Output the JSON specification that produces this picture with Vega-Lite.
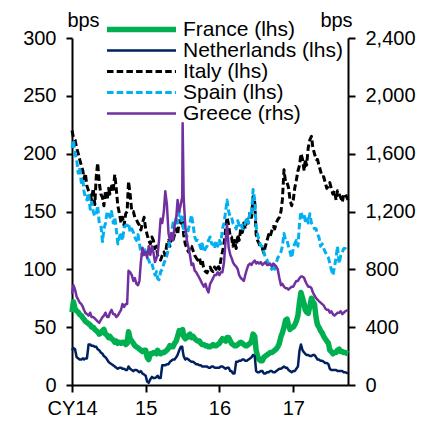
{
  "$schema": "https://vega.github.io/schema/vega-lite/v6.json",
  "width": 276,
  "height": 347,
  "autosize": {"type": "none"},
  "padding": {"left": 72, "top": 38, "right": 80, "bottom": 36},
  "background": "white",
  "config": {
    "view": {"stroke": null},
    "font": "Liberation Sans",
    "axis": {
      "labelFont": "Liberation Sans", "labelFontSize": 20, "labelColor": "black",
      "domainColor": "black", "domainWidth": 2, "tickColor": "black", "tickWidth": 2, "tickSize": 6,
      "grid": false, "titleFont": "Liberation Sans", "titleFontSize": 20, "titleFontWeight": "normal", "titleColor": "black"
    },
    "legend": {
      "orient": "none", "legendX": 32, "legendY": -19, "symbolType": "stroke", "symbolSize": 4761,
      "clipHeight": 21, "labelFontSize": 21, "labelFont": "Liberation Sans", "labelColor": "black",
      "padding": 0, "rowPadding": -1.4, "labelOffset": 4, "title": null
    }
  },
  "data": {"values": [
    {"d": "2014-01-01", "France": 63, "Netherlands": 30, "Italy": 220, "Spain": 205, "Greece": 630},
    {"d": "2014-01-08", "France": 72, "Netherlands": 32, "Italy": 214, "Spain": 212, "Greece": 690},
    {"d": "2014-01-16", "France": 66, "Netherlands": 31, "Italy": 212, "Spain": 200, "Greece": 660},
    {"d": "2014-01-24", "France": 64, "Netherlands": 24, "Italy": 205, "Spain": 195, "Greece": 610},
    {"d": "2014-02-01", "France": 63, "Netherlands": 23, "Italy": 200, "Spain": 183, "Greece": 590},
    {"d": "2014-02-08", "France": 61, "Netherlands": 22, "Italy": 195, "Spain": 188, "Greece": 570},
    {"d": "2014-02-16", "France": 60, "Netherlands": 22, "Italy": 190, "Spain": 175, "Greece": 560},
    {"d": "2014-02-24", "France": 58, "Netherlands": 23, "Italy": 185, "Spain": 178, "Greece": 540},
    {"d": "2014-03-01", "France": 57, "Netherlands": 22, "Italy": 178, "Spain": 168, "Greece": 520},
    {"d": "2014-03-08", "France": 55, "Netherlands": 23, "Italy": 183, "Spain": 162, "Greece": 500},
    {"d": "2014-03-16", "France": 54, "Netherlands": 23, "Italy": 172, "Spain": 160, "Greece": 490},
    {"d": "2014-03-24", "France": 53, "Netherlands": 35, "Italy": 168, "Spain": 166, "Greece": 480},
    {"d": "2014-04-01", "France": 52, "Netherlands": 35, "Italy": 165, "Spain": 152, "Greece": 500},
    {"d": "2014-04-08", "France": 50, "Netherlands": 34, "Italy": 160, "Spain": 158, "Greece": 470},
    {"d": "2014-04-16", "France": 50, "Netherlands": 34, "Italy": 170, "Spain": 150, "Greece": 470},
    {"d": "2014-04-24", "France": 48, "Netherlands": 33, "Italy": 156, "Spain": 146, "Greece": 460},
    {"d": "2014-05-01", "France": 47, "Netherlands": 33, "Italy": 180, "Spain": 148, "Greece": 450},
    {"d": "2014-05-08", "France": 46, "Netherlands": 31, "Italy": 192, "Spain": 155, "Greece": 440},
    {"d": "2014-05-16", "France": 44, "Netherlands": 30, "Italy": 175, "Spain": 140, "Greece": 430},
    {"d": "2014-05-24", "France": 45, "Netherlands": 28, "Italy": 165, "Spain": 138, "Greece": 450},
    {"d": "2014-06-01", "France": 47, "Netherlands": 27, "Italy": 162, "Spain": 124, "Greece": 470},
    {"d": "2014-06-08", "France": 48, "Netherlands": 25, "Italy": 155, "Spain": 135, "Greece": 480},
    {"d": "2014-06-16", "France": 44, "Netherlands": 24, "Italy": 168, "Spain": 140, "Greece": 500},
    {"d": "2014-06-24", "France": 43, "Netherlands": 22, "Italy": 160, "Spain": 150, "Greece": 470},
    {"d": "2014-07-01", "France": 41, "Netherlands": 20, "Italy": 170, "Spain": 148, "Greece": 470},
    {"d": "2014-07-08", "France": 42, "Netherlands": 19, "Italy": 165, "Spain": 145, "Greece": 500},
    {"d": "2014-07-16", "France": 40, "Netherlands": 18, "Italy": 172, "Spain": 150, "Greece": 520},
    {"d": "2014-07-24", "France": 39, "Netherlands": 17, "Italy": 168, "Spain": 140, "Greece": 490},
    {"d": "2014-08-01", "France": 37, "Netherlands": 16, "Italy": 182, "Spain": 145, "Greece": 490},
    {"d": "2014-08-08", "France": 38, "Netherlands": 15, "Italy": 170, "Spain": 135, "Greece": 470},
    {"d": "2014-08-16", "France": 36, "Netherlands": 14, "Italy": 155, "Spain": 122, "Greece": 480},
    {"d": "2014-08-24", "France": 37, "Netherlands": 15, "Italy": 148, "Spain": 128, "Greece": 500},
    {"d": "2014-09-01", "France": 36, "Netherlands": 15, "Italy": 140, "Spain": 132, "Greece": 520},
    {"d": "2014-09-08", "France": 37, "Netherlands": 14, "Italy": 145, "Spain": 125, "Greece": 560},
    {"d": "2014-09-16", "France": 37, "Netherlands": 14, "Italy": 138, "Spain": 136, "Greece": 540},
    {"d": "2014-09-24", "France": 35, "Netherlands": 13, "Italy": 148, "Spain": 138, "Greece": 560},
    {"d": "2014-10-01", "France": 36, "Netherlands": 13, "Italy": 150, "Spain": 138, "Greece": 560},
    {"d": "2014-10-08", "France": 46, "Netherlands": 16, "Italy": 176, "Spain": 140, "Greece": 790},
    {"d": "2014-10-16", "France": 40, "Netherlands": 14, "Italy": 165, "Spain": 132, "Greece": 780},
    {"d": "2014-10-24", "France": 38, "Netherlands": 13, "Italy": 150, "Spain": 135, "Greece": 760},
    {"d": "2014-11-01", "France": 36, "Netherlands": 12, "Italy": 150, "Spain": 132, "Greece": 720},
    {"d": "2014-11-08", "France": 34, "Netherlands": 13, "Italy": 145, "Spain": 128, "Greece": 740},
    {"d": "2014-11-16", "France": 33, "Netherlands": 13, "Italy": 143, "Spain": 125, "Greece": 700},
    {"d": "2014-11-24", "France": 32, "Netherlands": 12, "Italy": 140, "Spain": 130, "Greece": 690},
    {"d": "2014-12-01", "France": 31, "Netherlands": 11, "Italy": 138, "Spain": 122, "Greece": 720},
    {"d": "2014-12-08", "France": 30, "Netherlands": 12, "Italy": 134, "Spain": 115, "Greece": 850},
    {"d": "2014-12-16", "France": 29, "Netherlands": 10, "Italy": 140, "Spain": 112, "Greece": 950},
    {"d": "2014-12-24", "France": 30, "Netherlands": 9, "Italy": 145, "Spain": 118, "Greece": 900},
    {"d": "2015-01-01", "France": 30, "Netherlands": 8, "Italy": 135, "Spain": 115, "Greece": 920},
    {"d": "2015-01-08", "France": 24, "Netherlands": 3, "Italy": 130, "Spain": 110, "Greece": 880},
    {"d": "2015-01-16", "France": 22, "Netherlands": 2, "Italy": 125, "Spain": 108, "Greece": 960},
    {"d": "2015-01-24", "France": 27, "Netherlands": 5, "Italy": 122, "Spain": 104, "Greece": 900},
    {"d": "2015-02-01", "France": 27, "Netherlands": 7, "Italy": 128, "Spain": 105, "Greece": 960},
    {"d": "2015-02-08", "France": 28, "Netherlands": 6, "Italy": 125, "Spain": 100, "Greece": 920},
    {"d": "2015-02-16", "France": 28, "Netherlands": 6, "Italy": 118, "Spain": 95, "Greece": 850},
    {"d": "2015-02-24", "France": 27, "Netherlands": 7, "Italy": 120, "Spain": 98, "Greece": 880},
    {"d": "2015-03-01", "France": 30, "Netherlands": 8, "Italy": 112, "Spain": 92, "Greece": 900},
    {"d": "2015-03-08", "France": 28, "Netherlands": 6, "Italy": 110, "Spain": 91, "Greece": 1000},
    {"d": "2015-03-16", "France": 27, "Netherlands": 6, "Italy": 108, "Spain": 98, "Greece": 1150},
    {"d": "2015-03-24", "France": 28, "Netherlands": 17, "Italy": 112, "Spain": 100, "Greece": 1120},
    {"d": "2015-04-01", "France": 28, "Netherlands": 17, "Italy": 115, "Spain": 105, "Greece": 1200},
    {"d": "2015-04-08", "France": 29, "Netherlands": 17, "Italy": 112, "Spain": 108, "Greece": 1340},
    {"d": "2015-04-16", "France": 30, "Netherlands": 18, "Italy": 122, "Spain": 112, "Greece": 1250},
    {"d": "2015-04-24", "France": 32, "Netherlands": 18, "Italy": 125, "Spain": 118, "Greece": 1050},
    {"d": "2015-05-01", "France": 34, "Netherlands": 20, "Italy": 120, "Spain": 125, "Greece": 1000},
    {"d": "2015-05-08", "France": 33, "Netherlands": 21, "Italy": 128, "Spain": 130, "Greece": 1050},
    {"d": "2015-05-16", "France": 33, "Netherlands": 22, "Italy": 125, "Spain": 140, "Greece": 1000},
    {"d": "2015-05-24", "France": 36, "Netherlands": 22, "Italy": 130, "Spain": 138, "Greece": 1100},
    {"d": "2015-06-01", "France": 38, "Netherlands": 24, "Italy": 135, "Spain": 145, "Greece": 1150},
    {"d": "2015-06-08", "France": 42, "Netherlands": 26, "Italy": 130, "Spain": 140, "Greece": 1280},
    {"d": "2015-06-16", "France": 47, "Netherlands": 30, "Italy": 142, "Spain": 150, "Greece": 1200},
    {"d": "2015-06-24", "France": 44, "Netherlands": 33, "Italy": 140, "Spain": 145, "Greece": 1250},
    {"d": "2015-07-01", "France": 44, "Netherlands": 33, "Italy": 140, "Spain": 140, "Greece": 1300},
    {"d": "2015-07-03", "France": 48, "Netherlands": 30, "Italy": 142, "Spain": 145, "Greece": 1810},
    {"d": "2015-07-08", "France": 42, "Netherlands": 25, "Italy": 130, "Spain": 135, "Greece": 1300},
    {"d": "2015-07-16", "France": 40, "Netherlands": 22, "Italy": 122, "Spain": 132, "Greece": 1100},
    {"d": "2015-07-24", "France": 41, "Netherlands": 23, "Italy": 118, "Spain": 128, "Greece": 1000},
    {"d": "2015-08-01", "France": 43, "Netherlands": 22, "Italy": 115, "Spain": 135, "Greece": 950},
    {"d": "2015-08-08", "France": 44, "Netherlands": 21, "Italy": 120, "Spain": 140, "Greece": 900},
    {"d": "2015-08-16", "France": 41, "Netherlands": 20, "Italy": 120, "Spain": 147, "Greece": 830},
    {"d": "2015-08-24", "France": 42, "Netherlands": 20, "Italy": 116, "Spain": 138, "Greece": 840},
    {"d": "2015-09-01", "France": 40, "Netherlands": 19, "Italy": 112, "Spain": 128, "Greece": 790},
    {"d": "2015-09-08", "France": 39, "Netherlands": 18, "Italy": 110, "Spain": 125, "Greece": 780},
    {"d": "2015-09-16", "France": 38, "Netherlands": 18, "Italy": 108, "Spain": 125, "Greece": 760},
    {"d": "2015-09-24", "France": 38, "Netherlands": 17, "Italy": 110, "Spain": 122, "Greece": 740},
    {"d": "2015-10-01", "France": 36, "Netherlands": 17, "Italy": 105, "Spain": 118, "Greece": 720},
    {"d": "2015-10-08", "France": 35, "Netherlands": 16, "Italy": 108, "Spain": 122, "Greece": 700},
    {"d": "2015-10-16", "France": 35, "Netherlands": 16, "Italy": 100, "Spain": 115, "Greece": 680},
    {"d": "2015-10-24", "France": 34, "Netherlands": 16, "Italy": 98, "Spain": 118, "Greece": 700},
    {"d": "2015-11-01", "France": 34, "Netherlands": 16, "Italy": 97, "Spain": 120, "Greece": 660},
    {"d": "2015-11-08", "France": 33, "Netherlands": 15, "Italy": 100, "Spain": 125, "Greece": 640},
    {"d": "2015-11-16", "France": 33, "Netherlands": 15, "Italy": 102, "Spain": 128, "Greece": 700},
    {"d": "2015-11-24", "France": 34, "Netherlands": 16, "Italy": 99, "Spain": 122, "Greece": 720},
    {"d": "2015-12-01", "France": 35, "Netherlands": 16, "Italy": 98, "Spain": 122, "Greece": 740},
    {"d": "2015-12-08", "France": 34, "Netherlands": 15, "Italy": 102, "Spain": 118, "Greece": 760},
    {"d": "2015-12-16", "France": 34, "Netherlands": 15, "Italy": 100, "Spain": 125, "Greece": 760},
    {"d": "2015-12-24", "France": 35, "Netherlands": 15, "Italy": 104, "Spain": 120, "Greece": 780},
    {"d": "2016-01-01", "France": 36, "Netherlands": 15, "Italy": 100, "Spain": 125, "Greece": 760},
    {"d": "2016-01-08", "France": 38, "Netherlands": 16, "Italy": 108, "Spain": 122, "Greece": 780},
    {"d": "2016-01-16", "France": 40, "Netherlands": 16, "Italy": 115, "Spain": 135, "Greece": 780},
    {"d": "2016-01-24", "France": 39, "Netherlands": 15, "Italy": 122, "Spain": 140, "Greece": 850},
    {"d": "2016-02-01", "France": 38, "Netherlands": 14, "Italy": 135, "Spain": 150, "Greece": 1000},
    {"d": "2016-02-08", "France": 41, "Netherlands": 15, "Italy": 145, "Spain": 160, "Greece": 1110},
    {"d": "2016-02-16", "France": 41, "Netherlands": 15, "Italy": 138, "Spain": 150, "Greece": 950},
    {"d": "2016-02-24", "France": 38, "Netherlands": 12, "Italy": 128, "Spain": 145, "Greece": 900},
    {"d": "2016-03-01", "France": 36, "Netherlands": 12, "Italy": 128, "Spain": 145, "Greece": 880},
    {"d": "2016-03-08", "France": 35, "Netherlands": 10, "Italy": 120, "Spain": 140, "Greece": 850},
    {"d": "2016-03-16", "France": 34, "Netherlands": 10, "Italy": 125, "Spain": 138, "Greece": 830},
    {"d": "2016-03-24", "France": 34, "Netherlands": 20, "Italy": 118, "Spain": 135, "Greece": 820},
    {"d": "2016-04-01", "France": 35, "Netherlands": 20, "Italy": 130, "Spain": 142, "Greece": 800},
    {"d": "2016-04-08", "France": 36, "Netherlands": 21, "Italy": 125, "Spain": 138, "Greece": 760},
    {"d": "2016-04-16", "France": 37, "Netherlands": 21, "Italy": 135, "Spain": 140, "Greece": 740},
    {"d": "2016-04-24", "France": 36, "Netherlands": 22, "Italy": 132, "Spain": 135, "Greece": 730},
    {"d": "2016-05-01", "France": 35, "Netherlands": 22, "Italy": 140, "Spain": 135, "Greece": 720},
    {"d": "2016-05-08", "France": 34, "Netherlands": 21, "Italy": 135, "Spain": 140, "Greece": 760},
    {"d": "2016-05-16", "France": 34, "Netherlands": 21, "Italy": 145, "Spain": 145, "Greece": 800},
    {"d": "2016-05-24", "France": 35, "Netherlands": 22, "Italy": 140, "Spain": 140, "Greece": 830},
    {"d": "2016-06-01", "France": 36, "Netherlands": 23, "Italy": 150, "Spain": 150, "Greece": 840},
    {"d": "2016-06-08", "France": 38, "Netherlands": 24, "Italy": 145, "Spain": 148, "Greece": 830},
    {"d": "2016-06-16", "France": 44, "Netherlands": 26, "Italy": 163, "Spain": 169, "Greece": 850},
    {"d": "2016-06-24", "France": 42, "Netherlands": 25, "Italy": 158, "Spain": 160, "Greece": 860},
    {"d": "2016-07-01", "France": 30, "Netherlands": 12, "Italy": 130, "Spain": 137, "Greece": 840},
    {"d": "2016-07-08", "France": 25, "Netherlands": 11, "Italy": 125, "Spain": 130, "Greece": 850},
    {"d": "2016-07-16", "France": 22, "Netherlands": 11, "Italy": 122, "Spain": 125, "Greece": 840},
    {"d": "2016-07-24", "France": 21, "Netherlands": 12, "Italy": 118, "Spain": 120, "Greece": 850},
    {"d": "2016-08-01", "France": 21, "Netherlands": 12, "Italy": 118, "Spain": 120, "Greece": 830},
    {"d": "2016-08-08", "France": 24, "Netherlands": 10, "Italy": 114, "Spain": 115, "Greece": 840},
    {"d": "2016-08-16", "France": 25, "Netherlands": 10, "Italy": 120, "Spain": 110, "Greece": 850},
    {"d": "2016-08-24", "France": 26, "Netherlands": 11, "Italy": 125, "Spain": 108, "Greece": 830},
    {"d": "2016-09-01", "France": 27, "Netherlands": 11, "Italy": 130, "Spain": 105, "Greece": 830},
    {"d": "2016-09-08", "France": 28, "Netherlands": 12, "Italy": 128, "Spain": 102, "Greece": 840},
    {"d": "2016-09-16", "France": 28, "Netherlands": 12, "Italy": 133, "Spain": 100, "Greece": 820},
    {"d": "2016-09-24", "France": 29, "Netherlands": 11, "Italy": 137, "Spain": 104, "Greece": 840},
    {"d": "2016-10-01", "France": 30, "Netherlands": 11, "Italy": 135, "Spain": 100, "Greece": 830},
    {"d": "2016-10-08", "France": 31, "Netherlands": 12, "Italy": 140, "Spain": 105, "Greece": 820},
    {"d": "2016-10-16", "France": 33, "Netherlands": 13, "Italy": 143, "Spain": 110, "Greece": 800},
    {"d": "2016-10-24", "France": 36, "Netherlands": 14, "Italy": 145, "Spain": 112, "Greece": 740},
    {"d": "2016-11-01", "France": 42, "Netherlands": 14, "Italy": 150, "Spain": 115, "Greece": 690},
    {"d": "2016-11-08", "France": 45, "Netherlands": 15, "Italy": 160, "Spain": 120, "Greece": 700},
    {"d": "2016-11-16", "France": 50, "Netherlands": 16, "Italy": 186, "Spain": 131, "Greece": 680},
    {"d": "2016-11-24", "France": 56, "Netherlands": 15, "Italy": 175, "Spain": 125, "Greece": 670},
    {"d": "2016-12-01", "France": 57, "Netherlands": 15, "Italy": 175, "Spain": 125, "Greece": 670},
    {"d": "2016-12-08", "France": 52, "Netherlands": 13, "Italy": 171, "Spain": 120, "Greece": 660},
    {"d": "2016-12-16", "France": 48, "Netherlands": 12, "Italy": 160, "Spain": 115, "Greece": 670},
    {"d": "2016-12-24", "France": 50, "Netherlands": 11, "Italy": 155, "Spain": 110, "Greece": 680},
    {"d": "2017-01-01", "France": 50, "Netherlands": 12, "Italy": 160, "Spain": 118, "Greece": 680},
    {"d": "2017-01-08", "France": 52, "Netherlands": 12, "Italy": 170, "Spain": 122, "Greece": 700},
    {"d": "2017-01-16", "France": 55, "Netherlands": 14, "Italy": 177, "Spain": 125, "Greece": 720},
    {"d": "2017-01-24", "France": 60, "Netherlands": 16, "Italy": 185, "Spain": 120, "Greece": 720},
    {"d": "2017-02-01", "France": 72, "Netherlands": 30, "Italy": 190, "Spain": 140, "Greece": 740},
    {"d": "2017-02-08", "France": 80, "Netherlands": 35, "Italy": 200, "Spain": 150, "Greece": 750},
    {"d": "2017-02-16", "France": 75, "Netherlands": 30, "Italy": 195, "Spain": 145, "Greece": 750},
    {"d": "2017-02-24", "France": 70, "Netherlands": 28, "Italy": 185, "Spain": 148, "Greece": 740},
    {"d": "2017-03-01", "France": 65, "Netherlands": 27, "Italy": 195, "Spain": 142, "Greece": 720},
    {"d": "2017-03-08", "France": 63, "Netherlands": 26, "Italy": 190, "Spain": 145, "Greece": 700},
    {"d": "2017-03-16", "France": 62, "Netherlands": 26, "Italy": 205, "Spain": 140, "Greece": 680},
    {"d": "2017-03-24", "France": 68, "Netherlands": 25, "Italy": 212, "Spain": 148, "Greece": 680},
    {"d": "2017-04-01", "France": 75, "Netherlands": 25, "Italy": 215, "Spain": 140, "Greece": 670},
    {"d": "2017-04-08", "France": 72, "Netherlands": 26, "Italy": 205, "Spain": 138, "Greece": 640},
    {"d": "2017-04-16", "France": 70, "Netherlands": 26, "Italy": 200, "Spain": 135, "Greece": 620},
    {"d": "2017-04-24", "France": 58, "Netherlands": 24, "Italy": 195, "Spain": 135, "Greece": 600},
    {"d": "2017-05-01", "France": 52, "Netherlands": 22, "Italy": 195, "Spain": 130, "Greece": 590},
    {"d": "2017-05-08", "France": 50, "Netherlands": 22, "Italy": 190, "Spain": 128, "Greece": 580},
    {"d": "2017-05-16", "France": 47, "Netherlands": 21, "Italy": 185, "Spain": 120, "Greece": 570},
    {"d": "2017-05-24", "France": 45, "Netherlands": 21, "Italy": 180, "Spain": 122, "Greece": 560},
    {"d": "2017-06-01", "France": 42, "Netherlands": 20, "Italy": 180, "Spain": 118, "Greece": 550},
    {"d": "2017-06-08", "France": 40, "Netherlands": 19, "Italy": 175, "Spain": 115, "Greece": 530},
    {"d": "2017-06-16", "France": 38, "Netherlands": 19, "Italy": 170, "Spain": 112, "Greece": 520},
    {"d": "2017-06-24", "France": 36, "Netherlands": 18, "Italy": 172, "Spain": 110, "Greece": 520},
    {"d": "2017-07-01", "France": 30, "Netherlands": 14, "Italy": 175, "Spain": 105, "Greece": 500},
    {"d": "2017-07-08", "France": 29, "Netherlands": 13, "Italy": 170, "Spain": 100, "Greece": 510},
    {"d": "2017-07-16", "France": 27, "Netherlands": 13, "Italy": 165, "Spain": 95, "Greece": 490},
    {"d": "2017-07-24", "France": 28, "Netherlands": 13, "Italy": 168, "Spain": 102, "Greece": 480},
    {"d": "2017-08-01", "France": 28, "Netherlands": 13, "Italy": 160, "Spain": 110, "Greece": 490},
    {"d": "2017-08-08", "France": 30, "Netherlands": 12, "Italy": 168, "Spain": 120, "Greece": 500},
    {"d": "2017-08-16", "France": 31, "Netherlands": 12, "Italy": 165, "Spain": 105, "Greece": 500},
    {"d": "2017-08-24", "France": 29, "Netherlands": 12, "Italy": 162, "Spain": 112, "Greece": 510},
    {"d": "2017-09-01", "France": 29, "Netherlands": 12, "Italy": 158, "Spain": 115, "Greece": 490},
    {"d": "2017-09-08", "France": 28, "Netherlands": 11, "Italy": 165, "Spain": 118, "Greece": 500},
    {"d": "2017-09-16", "France": 28, "Netherlands": 11, "Italy": 165, "Spain": 118, "Greece": 510},
    {"d": "2017-09-29", "France": 27, "Netherlands": 10, "Italy": 160, "Spain": 116, "Greece": 520}
  ]},
  "encoding": {
    "x": {
      "field": "d", "type": "temporal",
      "scale": {"domain": ["2014-01-01", "2017-09-29"]},
      "axis": {
        "title": null, "tickCount": {"interval": "year", "step": 1},
        "labelExpr": "year(datum.value) == 2014 ? 'CY14' : timeFormat(datum.value, '%y')",
        "tickSize": 7, "labelPadding": 6, "labelFlush": false, "labelOverlap": false
      }
    }
  },
  "layer": [
    {
      "transform": [{"fold": ["France", "Netherlands", "Italy", "Spain"], "as": ["series", "value"]}],
      "mark": {"type": "line", "strokeJoin": "round"},
      "encoding": {
        "y": {
          "field": "value", "type": "quantitative",
          "scale": {"domain": [0, 300], "nice": false},
          "axis": {"title": "bps", "titleAngle": 0, "titleX": 11, "titleY": -18, "titleAlign": "center", "titleBaseline": "middle",
                   "values": [0, 50, 100, 150, 200, 250, 300], "labelPadding": 10}
        },
        "color": {"field": "series", "type": "nominal",
          "scale": {"domain": ["France", "Netherlands", "Italy", "Spain", "Greece"], "range": ["#00B050", "#002060", "#000000", "#00B0F0", "#7030A0"]},
          "legend": {"labelExpr": "datum.label + (datum.label == 'Greece' ? ' (rhs)' : ' (lhs)')"}},
        "strokeDash": {"field": "series", "type": "nominal",
          "scale": {"domain": ["France", "Netherlands", "Italy", "Spain", "Greece"], "range": [[1, 0], [1, 0], [6.5, 3.2], [6.5, 3.2], [1, 0]]}},
        "strokeWidth": {"field": "series", "type": "nominal",
          "scale": {"type": "ordinal", "domain": ["France", "Netherlands", "Italy", "Spain", "Greece"], "range": [5.5, 2.5, 3, 3, 2.5]}}
      }
    },
    {
      "transform": [{"fold": ["Greece"], "as": ["series", "value"]}],
      "mark": {"type": "line", "strokeJoin": "round"},
      "encoding": {
        "y": {
          "field": "value", "type": "quantitative",
          "scale": {"domain": [0, 2400], "nice": false},
          "axis": {"orient": "right", "title": "bps", "titleAngle": 0, "titleX": -12, "titleY": -18, "titleAlign": "center", "titleBaseline": "middle",
                   "values": [0, 400, 800, 1200, 1600, 2000, 2400], "format": ",.0f", "labelPadding": 10, "tickSize": 7}
        },
        "color": {"field": "series", "type": "nominal",
          "scale": {"domain": ["France", "Netherlands", "Italy", "Spain", "Greece"], "range": ["#00B050", "#002060", "#000000", "#00B0F0", "#7030A0"]},
          "legend": {"labelExpr": "datum.label + (datum.label == 'Greece' ? ' (rhs)' : ' (lhs)')"}},
        "strokeDash": {"field": "series", "type": "nominal",
          "scale": {"domain": ["France", "Netherlands", "Italy", "Spain", "Greece"], "range": [[1, 0], [1, 0], [6.5, 3.2], [6.5, 3.2], [1, 0]]}},
        "strokeWidth": {"field": "series", "type": "nominal",
          "scale": {"type": "ordinal", "domain": ["France", "Netherlands", "Italy", "Spain", "Greece"], "range": [5.5, 2.5, 3, 3, 2.5]}}
      }
    }
  ],
  "resolve": {"scale": {"y": "independent"}}
}
